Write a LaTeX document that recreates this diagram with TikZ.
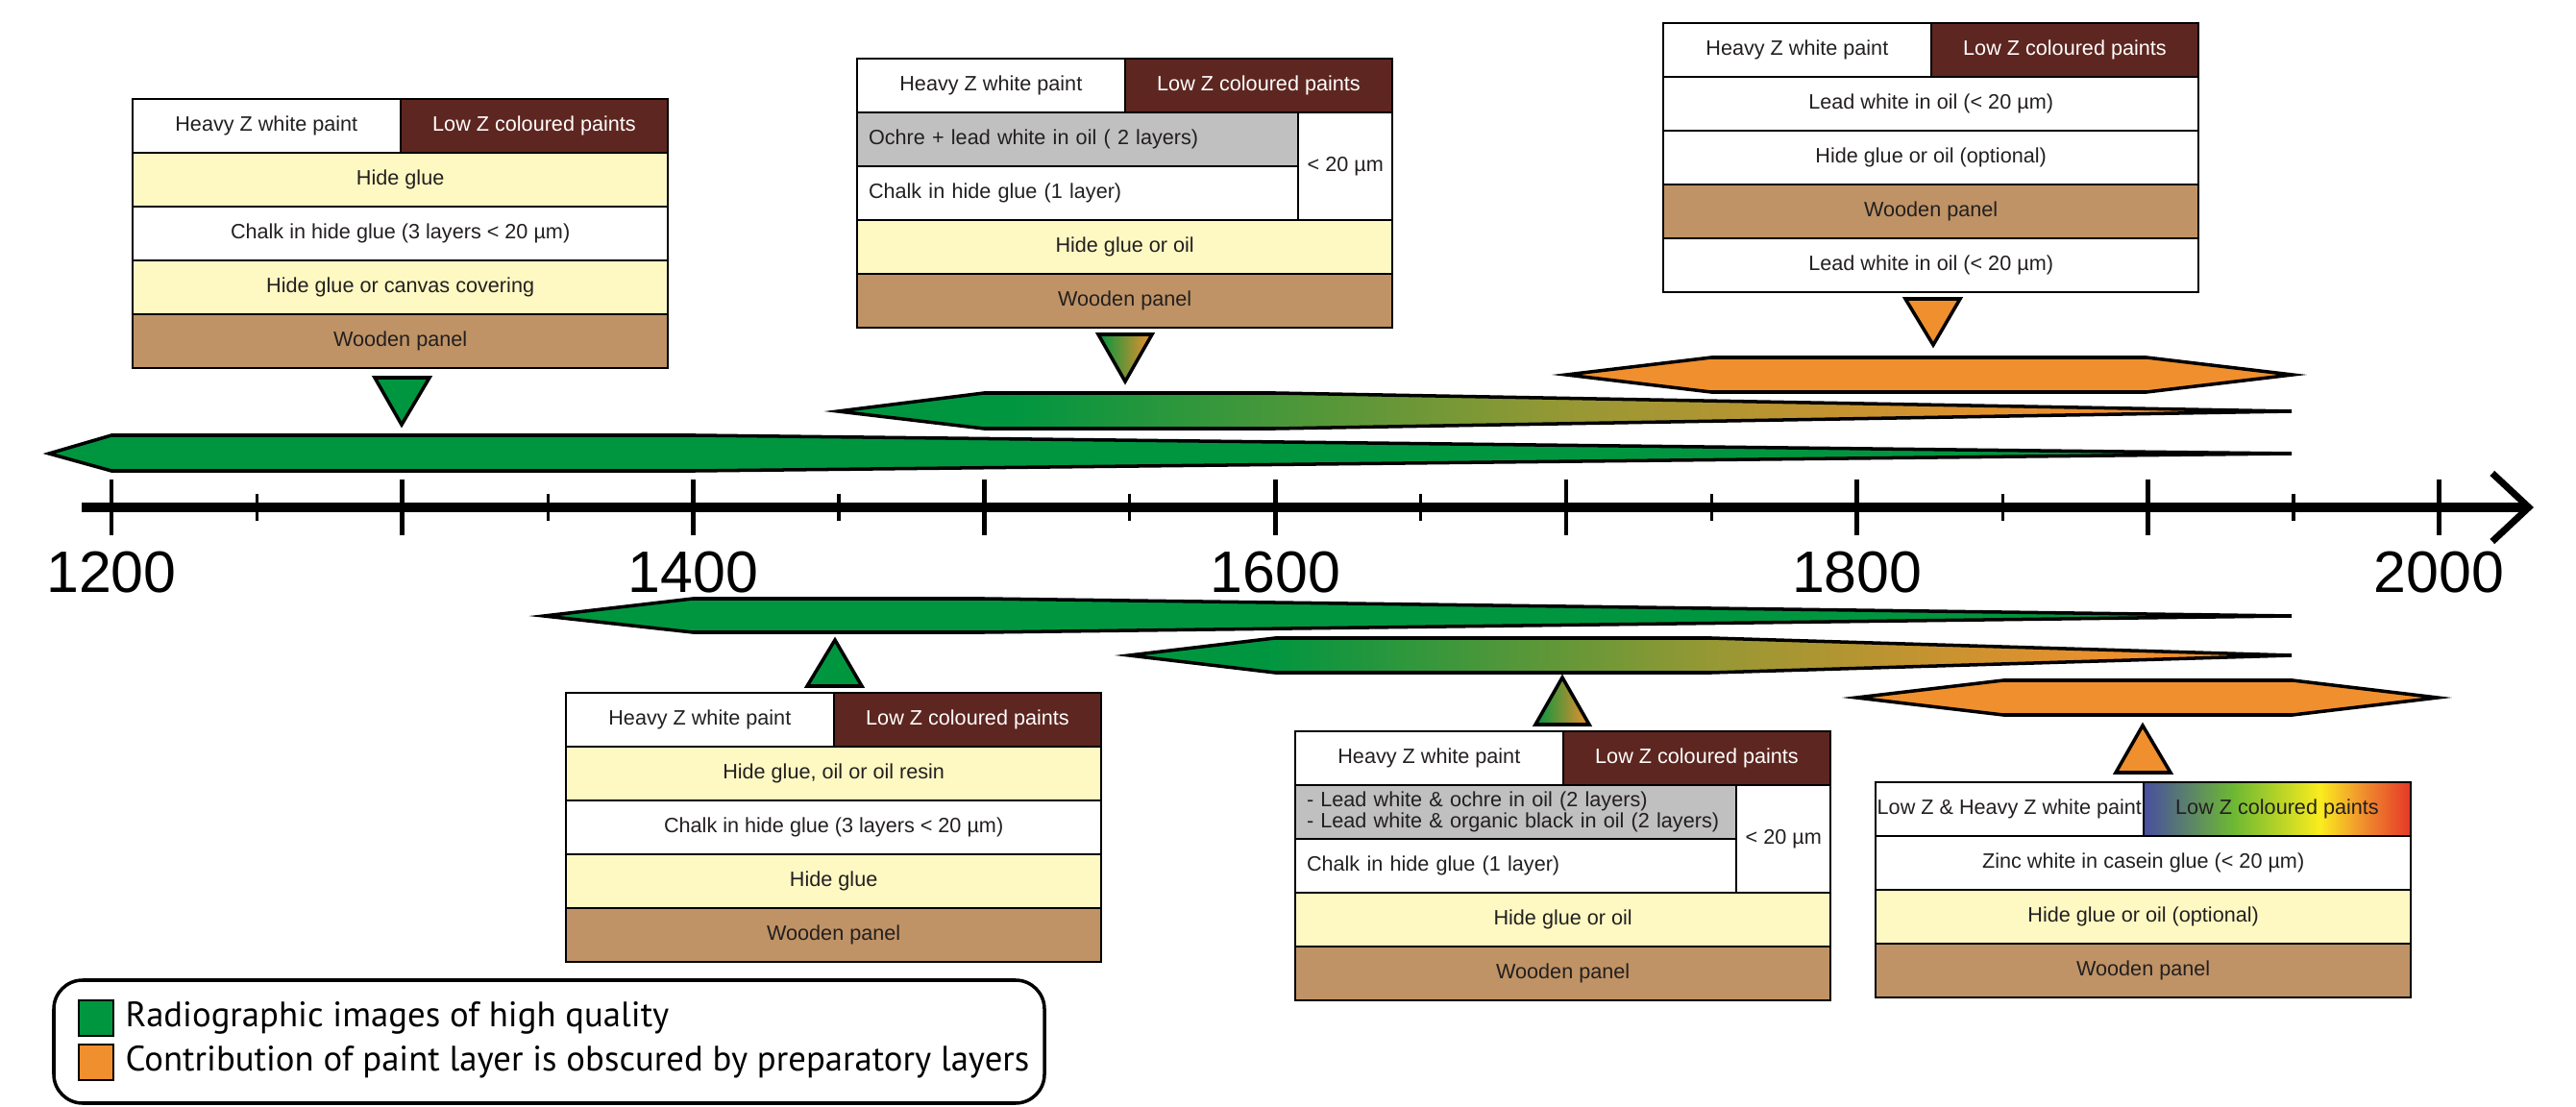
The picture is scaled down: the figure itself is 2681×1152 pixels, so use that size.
\documentclass[tikz,border=0pt]{standalone}
\usepackage{fontspec}
\setmainfont{Liberation Sans}
\newfontfamily\legfont{PT Sans}
\usetikzlibrary{arrows.meta, positioning}

\definecolor{zgreen}{RGB}{0,150,64}
\definecolor{zorange}{RGB}{240,143,45}
\definecolor{zbrown}{RGB}{94,38,32}
\definecolor{zglue}{RGB}{254,249,194}
\definecolor{zwood}{RGB}{191,147,101}
\definecolor{zgrey}{RGB}{192,192,192}
\definecolor{zolive}{RGB}{150,152,52}
\definecolor{ztxt}{RGB}{35,31,32}
\definecolor{rbblue}{RGB}{72,78,160}
\definecolor{rbgreen}{RGB}{110,185,50}
\definecolor{rbyellow}{RGB}{250,236,30}
\definecolor{rbred}{RGB}{228,55,40}

% green -> orange along the bands
\pgfdeclarehorizontalshading{fade}{100bp}{color(0bp)=(zgreen); color(31bp)=(zgreen); color(50bp)=(zolive); color(68bp)=(zorange); color(100bp)=(zorange)}
\pgfdeclarehorizontalshading{rainbow}{100bp}{color(0bp)=(rbblue); color(25bp)=(rbblue); color(42bp)=(rbgreen); color(58bp)=(rbyellow); color(66bp)=(zorange); color(75bp)=(rbred); color(100bp)=(rbred)}

\begin{document}
\begin{tikzpicture}[
  x=0.01cm, y=-0.01cm,
  every node/.style={text=ztxt, font=\fontsize{6.15}{6.3}\selectfont},
  lyr/.style={draw, line width=0.6pt, minimum width=5.57cm, minimum height=0.56cm, inner sep=0pt, outer sep=0pt},
  half/.style={lyr, minimum width=2.785cm},
  colr/.style={half, fill=zbrown, text=white},
  split/.style={lyr, minimum width=4.59cm, text width=4.35cm, inner xsep=0.12cm, align=left},
  thin20/.style={lyr, minimum width=0.98cm, minimum height=1.12cm},
  band/.style={draw, line width=1pt},
  tri/.style={draw, line width=1pt},
  axis/.style={line width=2.6pt, -{Straight Barb[length=0.38cm, width=0.71cm, line width=2pt]}},
  majtick/.style={line width=1.4pt},
  mintick/.style={line width=0.9pt},
  yearlbl/.style={text=black, font=\fontsize{17.3}{20}\selectfont},
  keysq/.style={draw, line width=0.8pt, minimum width=0.36cm, minimum height=0.37cm, inner sep=0pt, outer sep=0pt},
  keytxt/.style={text=black, inner sep=0pt, font=\legfont\fontsize{10.45}{12}\selectfont},
]
\useasboundingbox (0,0) rectangle (2681,1152);

% time axis
\coordinate (axL) at (85,528);
\coordinate (axR) at (2637,528);
\draw[axis] (axL) -- (axR);
\foreach \yr in {1200,1300,...,2000}
  \draw[majtick] ({116+(\yr-1200)*3.028},499) -- ++(0,58);
\foreach \yr in {1250,1350,...,1950}
  \draw[mintick] ({116+(\yr-1200)*3.028},514) -- ++(0,28);
\foreach \yr in {1200,1400,...,2000}
  \node[yearlbl] (y\yr) at ({116+(\yr-1200)*3.028},596) {\yr};

% bands above the axis
\filldraw[band, fill=zgreen] (51,472) -- (116,453) -- (723,453) -- (2385,472) -- (723,490) -- (116,490) -- cycle;
\shadedraw[band, shading=fade] (872,428) -- (1024,409) -- (1327,409) -- (2385,428) -- (1327,446) -- (1024,446) -- cycle;
\filldraw[band, fill=zorange] (1630,390) -- (1781,372) -- (2234,372) -- (2386,390) -- (2234,408) -- (1781,408) -- cycle;

% bands below the axis
\filldraw[band, fill=zgreen] (566,641) -- (721,623) -- (1024,623) -- (2385,641) -- (1024,658) -- (721,658) -- cycle;
\shadedraw[band, shading=fade] (1175,682) -- (1327,664) -- (1781,664) -- (2385,682) -- (1781,700) -- (1327,700) -- cycle;
\filldraw[band, fill=zorange] (1932,726) -- (2085,708) -- (2386,708) -- (2537,726) -- (2386,744) -- (2085,744) -- cycle;

% markers
\filldraw[tri, fill=zgreen] (390,393) -- (447,393) -- (418,442) -- cycle;
\shadedraw[tri, left color=zgreen, right color=zorange] (1143,348) -- (1199,348) -- (1171,397) -- cycle;
\filldraw[tri, fill=zorange] (1983,311) -- (2040,311) -- (2012,359) -- cycle;
\filldraw[tri, fill=zgreen] (840,714) -- (897,714) -- (869,666) -- cycle;
\shadedraw[tri, left color=zgreen, right color=zorange] (1598,754) -- (1654,754) -- (1626,705) -- cycle;
\filldraw[tri, fill=zorange] (2202,804) -- (2259,804) -- (2230,755) -- cycle;

% box 1
\node[half, anchor=north west] (b1w) at (138,103) {Heavy Z white paint};
\node[colr, right=0pt of b1w] (b1c) {Low Z coloured paints};
\node[lyr, fill=zglue, below=0pt of b1w.south east] (b1a) {Hide glue};
\node[lyr, below=0pt of b1a] (b1b) {Chalk in hide glue (3 layers < 20 µm)};
\node[lyr, fill=zglue, below=0pt of b1b] (b1d) {Hide glue or canvas covering};
\node[lyr, fill=zwood, below=0pt of b1d] (b1p) {Wooden panel};

% box 2
\node[half, anchor=north west] (b2w) at (892,61) {Heavy Z white paint};
\node[colr, right=0pt of b2w] (b2c) {Low Z coloured paints};
\node[split, fill=zgrey, below right=0pt and 0pt of b2w.south west] (b2o) {Ochre + lead white in oil ( 2 layers)};
\node[split, below=0pt of b2o] (b2k) {Chalk in hide glue (1 layer)};
\node[thin20, below right=0pt and 0pt of b2o.north east] (b2u) {< 20 µm};
\node[lyr, fill=zglue, below right=0pt and 0pt of b2k.south west] (b2g) {Hide glue or oil};
\node[lyr, fill=zwood, below=0pt of b2g] (b2p) {Wooden panel};

% box 3
\node[half, anchor=north west] (b3w) at (1731,24) {Heavy Z white paint};
\node[colr, right=0pt of b3w] (b3c) {Low Z coloured paints};
\node[lyr, below=0pt of b3w.south east] (b3a) {Lead white in oil (< 20 µm)};
\node[lyr, below=0pt of b3a] (b3g) {Hide glue or oil (optional)};
\node[lyr, fill=zwood, below=0pt of b3g] (b3p) {Wooden panel};
\node[lyr, below=0pt of b3p] (b3b) {Lead white in oil (< 20 µm)};

% box 4
\node[half, anchor=north west] (b4w) at (589,721) {Heavy Z white paint};
\node[colr, right=0pt of b4w] (b4c) {Low Z coloured paints};
\node[lyr, fill=zglue, below=0pt of b4w.south east] (b4a) {Hide glue, oil or oil resin};
\node[lyr, below=0pt of b4a] (b4b) {Chalk in hide glue (3 layers < 20 µm)};
\node[lyr, fill=zglue, below=0pt of b4b] (b4d) {Hide glue};
\node[lyr, fill=zwood, below=0pt of b4d] (b4p) {Wooden panel};

% box 5
\node[half, anchor=north west] (b5w) at (1348,761) {Heavy Z white paint};
\node[colr, right=0pt of b5w] (b5c) {Low Z coloured paints};
\node[split, fill=zgrey, below right=0pt and 0pt of b5w.south west] (b5o) {- Lead white \& ochre in oil (2 layers)\\- Lead white \& organic black in oil (2 layers)};
\node[split, below=0pt of b5o] (b5k) {Chalk in hide glue (1 layer)};
\node[thin20, below right=0pt and 0pt of b5o.north east] (b5u) {< 20 µm};
\node[lyr, fill=zglue, below right=0pt and 0pt of b5k.south west] (b5g) {Hide glue or oil};
\node[lyr, fill=zwood, below=0pt of b5g] (b5p) {Wooden panel};

% box 6
\node[half, anchor=north west] (b6w) at (1952,814) {Low Z \& Heavy Z white paint};
\node[half, shade, shading=rainbow, right=0pt of b6w] (b6c) {Low Z coloured paints};
\node[lyr, below=0pt of b6w.south east] (b6a) {Zinc white in casein glue (< 20 µm)};
\node[lyr, fill=zglue, below=0pt of b6a] (b6g) {Hide glue or oil (optional)};
\node[lyr, fill=zwood, below=0pt of b6g] (b6p) {Wooden panel};

% legend
\draw[line width=1pt, rounded corners=0.3cm] (56,1020) rectangle (1087,1148);
\node[keysq, fill=zgreen] (kgreen) at (100,1059.5) {};
\node[keysq, fill=zorange, below=0.09cm of kgreen] (korange) {};
\node[keytxt, right=0.12cm of kgreen] (tgreen) {Radiographic images of high quality};
\node[keytxt, right=0.12cm of korange] (torange) {Contribution of paint layer is obscured by preparatory layers};
\end{tikzpicture}
\end{document}
